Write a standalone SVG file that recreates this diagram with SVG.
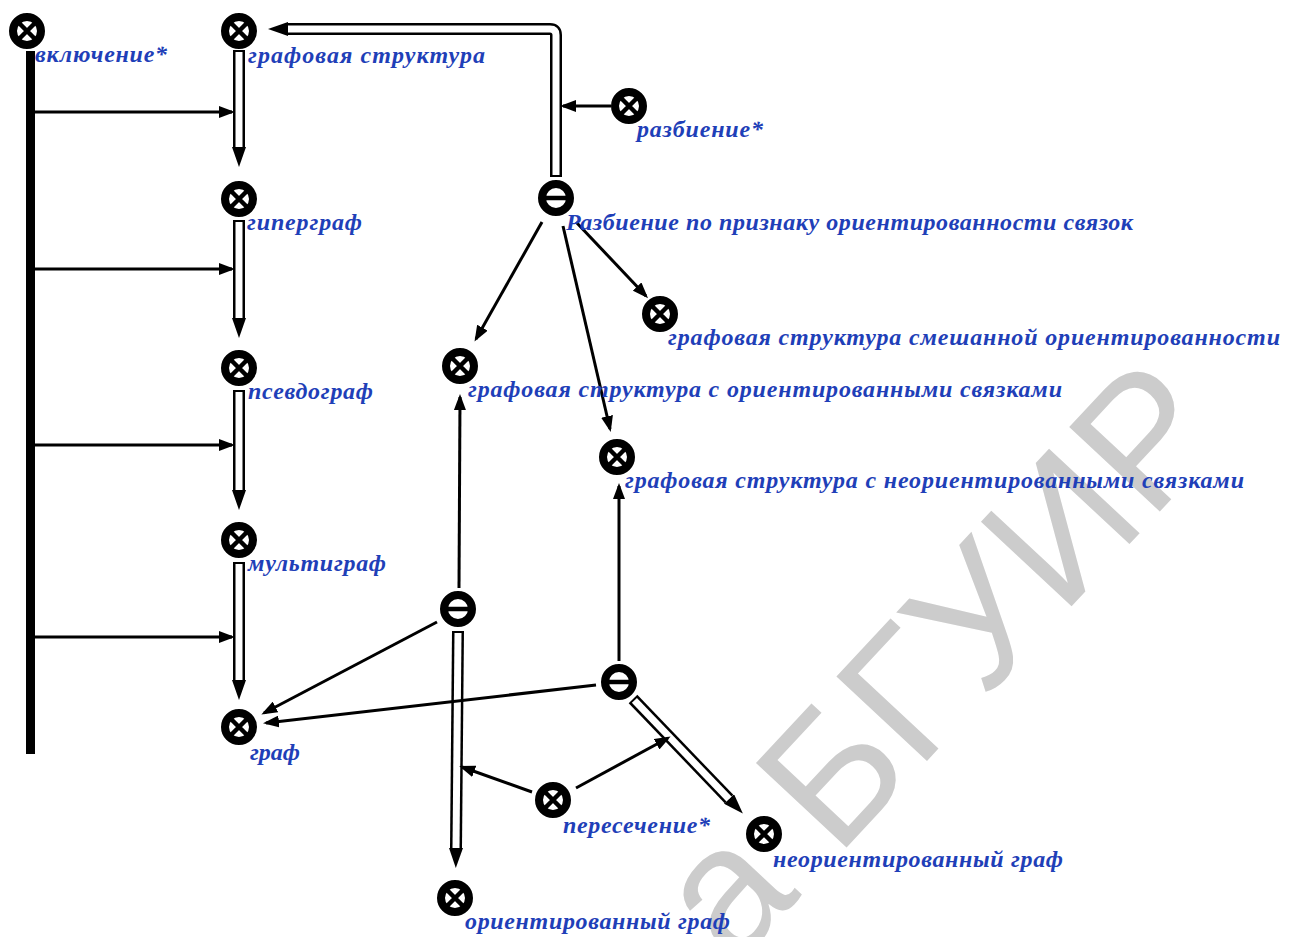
<svg xmlns="http://www.w3.org/2000/svg" width="1296" height="937" viewBox="0 0 1296 937">
<defs>
  <style>
    .lbl { font-family: "Liberation Serif", "DejaVu Serif", serif; font-style: italic; font-weight: bold; font-size: 24px; fill: #1f3fb8; }
    .ln { stroke: #000; stroke-width: 3; fill: none; }
    .hout { stroke: #000; stroke-width: 12; fill: none; stroke-linejoin: round; }
    .hin { stroke: #fff; stroke-width: 7; fill: none; stroke-linejoin: round; }
    .ring { fill: #fff; stroke: #000; stroke-width: 8; }
    .cross { stroke: #000; stroke-width: 4.5; }
    .wm { font-family: "Liberation Sans", "DejaVu Sans", sans-serif; font-size: 180px; fill: #cccccc; }
  </style>
  <marker id="ah" viewBox="0 0 16 12" refX="13" refY="6" markerWidth="16" markerHeight="12" markerUnits="userSpaceOnUse" orient="auto">
    <path d="M0,0 L16,6 L0,12 z" fill="#000"/>
  </marker>
  <marker id="hh" viewBox="0 0 20 14" refX="0" refY="7" markerWidth="20" markerHeight="14" markerUnits="userSpaceOnUse" orient="auto">
    <path d="M0,0 L20,7 L0,14 z" fill="#000"/>
  </marker>
  <g id="nx">
    <circle r="14" class="ring"/>
    <path d="M-7.5,-7.5 L7.5,7.5 M7.5,-7.5 L-7.5,7.5" class="cross"/>
  </g>
  <g id="nm">
    <circle r="14" class="ring"/>
    <path d="M-11,0 L11,0" stroke="#000" stroke-width="4.5"/>
  </g>
</defs>

<rect width="1296" height="937" fill="#fff"/>

<!-- background stamp -->
<text class="wm" transform="translate(734,968) rotate(-47)">а БГУИР</text>

<g id="connectors">
  <!-- inclusion bar and its branches -->
  <rect x="26" y="51" width="9" height="703" fill="#000"/>
  <path class="ln" d="M34,112 L232,112" marker-end="url(#ah)"/>
  <path class="ln" d="M34,269 L232,269" marker-end="url(#ah)"/>
  <path class="ln" d="M34,445 L232,445" marker-end="url(#ah)"/>
  <path class="ln" d="M34,637 L232,637" marker-end="url(#ah)"/>

  <!-- hollow chain arrows -->
  <path class="hout" d="M239,50 L239,147" marker-end="url(#hh)"/>
  <path class="hin" d="M239,52 L239,147"/>
  <path class="hout" d="M239,220 L239,318" marker-end="url(#hh)"/>
  <path class="hin" d="M239,222 L239,318"/>
  <path class="hout" d="M239,390 L239,490" marker-end="url(#hh)"/>
  <path class="hin" d="M239,392 L239,490"/>
  <path class="hout" d="M239,562 L239,680" marker-end="url(#hh)"/>
  <path class="hin" d="M239,564 L239,680"/>

  <!-- partition up to graph structure -->
  <path class="hout" d="M556,177 L556,35 Q556,29 550,29 L288,29" marker-end="url(#hh)"/>
  <path class="hin" d="M556,175 L556,35 Q556,29 550,29 L288,29"/>
  <path class="ln" d="M611,106 L563,106" marker-end="url(#ah)"/>

  <!-- partition branches -->
  <path class="ln" d="M542,222 L476,339" marker-end="url(#ah)"/>
  <path class="ln" d="M563,226 L610,429" marker-end="url(#ah)"/>
  <path class="ln" d="M576,222 L646,296" marker-end="url(#ah)"/>

  <!-- left intersection node -->
  <path class="ln" d="M459,588 L460,397" marker-end="url(#ah)"/>
  <path class="ln" d="M437,622 L264,713" marker-end="url(#ah)"/>
  <path class="hout" d="M458,631 L456,848" marker-end="url(#hh)"/>
  <path class="hin" d="M458,633 L456,848"/>

  <!-- right intersection node -->
  <path class="ln" d="M619,661 L619,486" marker-end="url(#ah)"/>
  <path class="ln" d="M596,685 L266,723" marker-end="url(#ah)"/>
  <path class="hout" d="M633,699 L729,799" marker-end="url(#hh)"/>
  <path class="hin" d="M634.4,700.4 L729,799"/>

  <!-- intersection relation -->
  <path class="ln" d="M532,792 L462,767" marker-end="url(#ah)"/>
  <path class="ln" d="M576,788 L668,738" marker-end="url(#ah)"/>
</g>

<g id="n-inclusion"><use href="#nx" x="27" y="31"/><text class="lbl" x="35" y="62" textLength="132">включение*</text></g>
<g id="n-graph-structure"><use href="#nx" x="239" y="31"/><text class="lbl" x="248" y="63" textLength="237">графовая структура</text></g>
<g id="n-hypergraph"><use href="#nx" x="239" y="199"/><text class="lbl" x="247" y="230" textLength="115">гиперграф</text></g>
<g id="n-pseudograph"><use href="#nx" x="239" y="368"/><text class="lbl" x="248" y="399" textLength="125">псевдограф</text></g>
<g id="n-multigraph"><use href="#nx" x="239" y="540"/><text class="lbl" x="248" y="571" textLength="138">мультиграф</text></g>
<g id="n-graph"><use href="#nx" x="239" y="727"/><text class="lbl" x="250" y="760" textLength="50">граф</text></g>
<g id="n-partition"><use href="#nx" x="629" y="106"/><text class="lbl" x="637" y="137" textLength="126">разбиение*</text></g>
<g id="n-orient-split"><use href="#nm" x="556" y="198"/><text class="lbl" x="566" y="230" textLength="567">Разбиение по признаку ориентированности связок</text></g>
<g id="n-mixed"><use href="#nx" x="660" y="314"/><text class="lbl" x="668" y="345" textLength="612">графовая структура смешанной ориентированности</text></g>
<g id="n-oriented-links"><use href="#nx" x="460" y="366"/><text class="lbl" x="468" y="397" textLength="594">графовая структура с ориентированными связками</text></g>
<g id="n-unoriented-links"><use href="#nx" x="617" y="457"/><text class="lbl" x="625" y="488" textLength="619">графовая структура с неориентированными связками</text></g>
<g id="n-set-left"><use href="#nm" x="458" y="609"/></g>
<g id="n-set-right"><use href="#nm" x="619" y="682"/></g>
<g id="n-intersection"><use href="#nx" x="553" y="800"/><text class="lbl" x="563" y="833" textLength="147">пересечение*</text></g>
<g id="n-undirected"><use href="#nx" x="764" y="834"/><text class="lbl" x="773" y="867" textLength="290">неориентированный граф</text></g>
<g id="n-directed"><use href="#nx" x="455" y="898"/><text class="lbl" x="465" y="929" textLength="265">ориентированный граф</text></g>
</svg>
